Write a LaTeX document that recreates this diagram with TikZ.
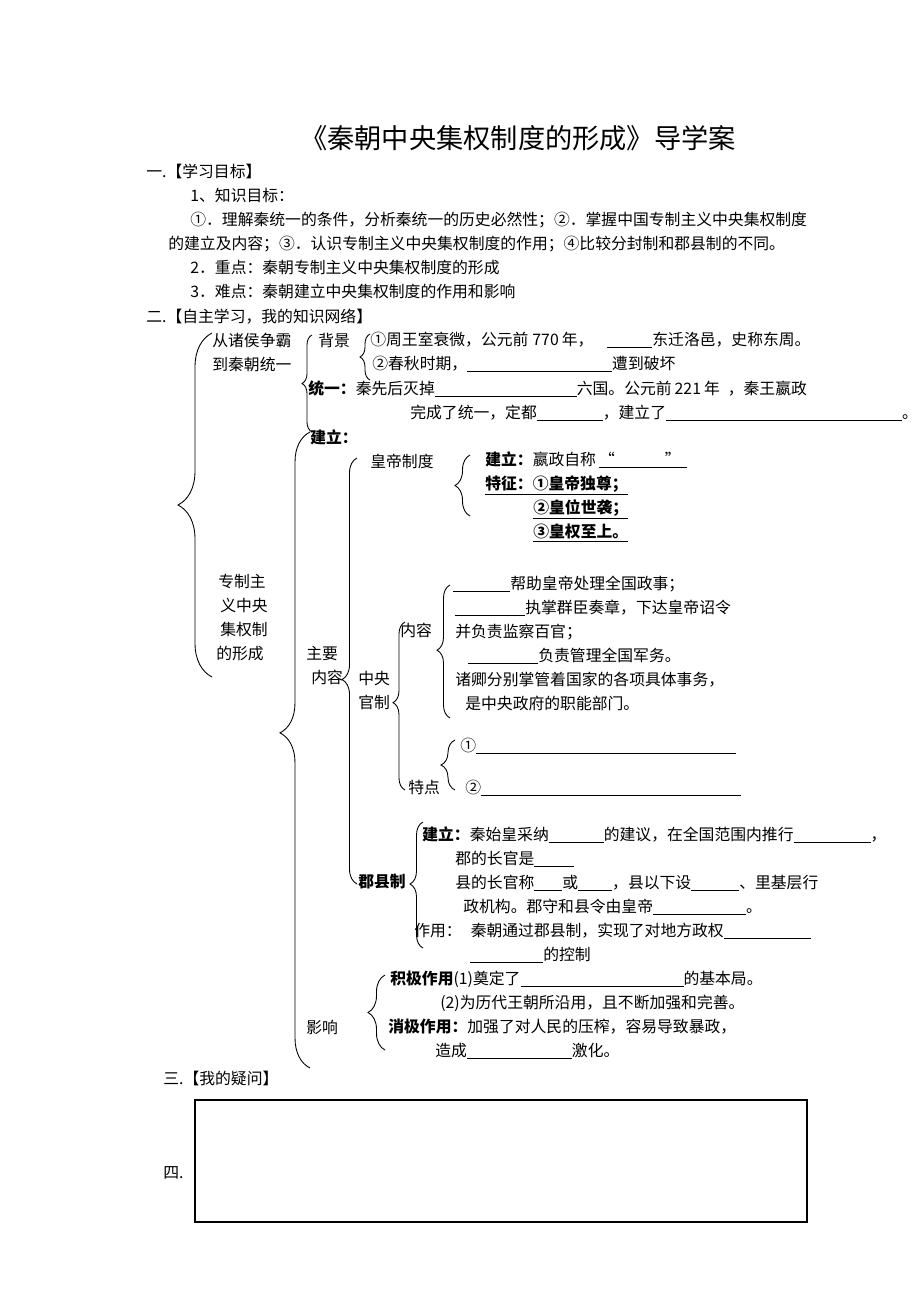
\documentclass[tikz,border=0pt]{standalone}
\usepackage{fontspec}
\setmainfont{Noto Sans CJK SC}
\usetikzlibrary{decorations.pathreplacing}
\newlength\pxu
\setlength\pxu{0.02cm}
\newcommand\gap[1]{\hspace*{#1\pxu}}
\newcommand\blank[1]{\rule[-1.5pt]{#1\pxu}{0.5pt}}

\begin{document}
\begin{tikzpicture}[x=0.02cm, y=-0.02cm,
    txt/.style={anchor=west, inner sep=0pt, font=\fontsize{9pt}{13.66pt}\selectfont},
    lines/.style={txt, align=left},
    brc/.style={decorate, decoration={brace, amplitude=#1}, line width=0.5pt},
    qbox/.style={draw, line width=0.8pt, minimum width=12.24cm, minimum height=2.44cm, inner sep=0pt}
]
\useasboundingbox (0,0) rectangle (920,1302);

% Title and learning goals
\node[inner sep=0pt, font=\fontsize{15.5pt}{18pt}\selectfont] (title) at (518,138) {《秦朝中央集权制度的形成》导学案};
\node[txt] (sec1) at (146,171) {一.【学习目标】};
\node[lines] (goals) at (168,243.5) {\gap{22}1、知识目标：\\
\gap{22}①．理解秦统一的条件，分析秦统一的历史必然性；②．掌握中国专制主义中央集权制度\\
的建立及内容；③．认识专制主义中央集权制度的作用；④比较分封制和郡县制的不同。\\
\gap{22}2．重点：秦朝专制主义中央集权制度的形成\\
\gap{22}3．难点：秦朝建立中央集权制度的作用和影响};
\node[txt] (sec2) at (146,317) {二.【自主学习，我的知识网络】};

% Left column
\node[lines] (unify) at (212,352) {从诸侯争霸\\到秦朝统一};
\node[lines] (system) at (216,618) {\gap{2}专制主\\\gap{4}义中央\\\gap{4}集权制\\的形成};

% From rivalry to unification
\node[txt] (bg) at (318,340) {背景};
\node[lines] (bgText) at (370,352) {①周王室衰微，公元前\gap{4}770\gap{3}年，\gap{14}\blank{45}东迁洛邑，史称东周。\\
\gap{2}②春秋时期，\blank{145}遭到破坏};
\node[lines] (uni) at (308,401) {\textbf{统一：}秦先后灭掉\blank{142}六国。公元前\gap{3}221\gap{3}年\gap{8}，秦王嬴政\\
\gap{102}完成了统一，定都\blank{66}，建立了\blank{236}。};
\node[txt] (est) at (310,437) {\textbf{建立：}};

% Main contents
\node[lines] (main) at (306,666) {主要\\\gap{5}内容};
\node[txt] (emp) at (370,461) {皇帝制度};
\node[lines] (empText) at (485,497) {\textbf{建立：}嬴政自称\gap{3}\underline{“\gap{50}”\gap{6}}\\
\underline{\textbf{特征：①皇帝独尊；}}\\
\gap{48}\underline{\textbf{②皇位世袭；}}\\
\gap{48}\underline{\textbf{③皇权至上。}}};

\node[lines] (central) at (358,690) {中央\\官制};
\node[txt] (cgCont) at (400,630) {内容};
\node[lines] (cgText) at (453,643) {\blank{57}帮助皇帝处理全国政事；\\
\gap{2}\blank{70}执掌群臣奏章，下达皇帝诏令\\
\gap{2}并负责监察百官；\\
\gap{15}\blank{70}负责管理全国军务。\\
\gap{2}诸卿分别掌管着国家的各项具体事务，\\
\gap{12}是中央政府的职能部门。};
\node[txt] (cgFeat) at (408,787) {特点};
\node[txt] (feat1) at (460,746) {①\blank{260}};
\node[txt] (feat2) at (465,788) {②\blank{260}};

\node[txt] (pref) at (358,882) {\textbf{郡县制}};
\node[lines] (prefText) at (414,895) {\gap{8}\textbf{建立：}秦始皇采纳\blank{55}的建议，在全国范围内推行\blank{77}，\\
\gap{41}郡的长官是\blank{40}\\
\gap{41}县的长官称\blank{28}或\blank{34}，县以下设\blank{48}、里基层行\\
\gap{49}政机构。郡守和县令由皇帝\blank{93}。\\
作用：\gap{9}秦朝通过郡县制，实现了对地方政权\blank{87}\\
\gap{56}\blank{73}的控制};

% Impact
\node[txt] (impact) at (306,1027) {影响};
\node[lines] (impText) at (388,1015) {\gap{2}\textbf{积极作用}(1)奠定了\blank{163}的基本局。\\
\gap{52}(2)为历代王朝所沿用，且不断加强和完善。\\
\textbf{消极作用：}加强了对人民的压榨，容易导致暴政，\\
\gap{47}造成\blank{105}激化。};

% Questions
\node[txt] (sec3) at (163,1078) {三.【我的疑问】};
\node[qbox] (qbox) at (501,1161) {};
\node[txt] (sec4) at (163,1173) {四.};

% Brace ends
\coordinate (topT) at (212,333);   \coordinate (topB) at (212,677);
\coordinate (uniT) at (312,335);   \coordinate (uniB) at (312,432);
\coordinate (bgT) at (370,334);    \coordinate (bgB) at (370,380);
\coordinate (estT) at (310,432);   \coordinate (estB) at (310,1068);
\coordinate (mainT) at (357,458);  \coordinate (mainB) at (357,884);
\coordinate (empT) at (470,455);   \coordinate (empB) at (470,516);
\coordinate (cenT) at (405,622);   \coordinate (cenB) at (405,790);
\coordinate (contT) at (450,585);  \coordinate (contB) at (450,718);
\coordinate (featT) at (455,740);  \coordinate (featB) at (455,790);
\coordinate (prefT) at (423,822);  \coordinate (prefB) at (423,948);
\coordinate (impT) at (385,975);   \coordinate (impB) at (385,1050);

% Braces
\draw[brc=0.68cm] (topB) -- (topT);
\draw[brc=0.2cm] (uniB) -- (uniT);
\draw[brc=0.2cm] (bgB) -- (bgT);
\draw[brc=0.6cm, decoration={aspect=0.527}] (estB) -- (estT);
\draw[brc=0.3cm, decoration={aspect=0.48}] (mainB) -- (mainT);
\draw[brc=0.3cm] (empB) -- (empT);
\draw[brc=0.24cm, decoration={aspect=0.52}] (cenB) -- (cenT);
\draw[brc=0.26cm, decoration={aspect=0.51}] (contB) -- (contT);
\draw[brc=0.28cm] (featB) -- (featT);
\draw[brc=0.26cm, decoration={aspect=0.508}] (prefB) -- (prefT);
\draw[brc=0.34cm] (impB) -- (impT);

\end{tikzpicture}
\end{document}
